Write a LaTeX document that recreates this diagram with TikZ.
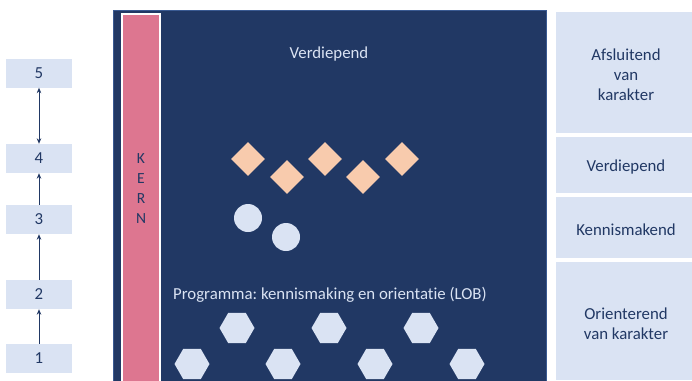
\documentclass[tikz,border=0pt]{standalone}
\usepackage{fontspec}
\setmainfont{Carlito}[RawFeature=-liga]
\frenchspacing
\usetikzlibrary{shapes.geometric,arrows.meta}
\definecolor{navy}{HTML}{213864}
\definecolor{navyedge}{HTML}{3A5A92}
\definecolor{pale}{HTML}{DAE3F3}
\definecolor{kernpink}{HTML}{DD7690}
\definecolor{peach}{HTML}{F8CBAD}
\tikzset{
  every node/.style={font=\fontsize{16.8}{20}\selectfont},
  numbox/.style={fill=pale, draw=none, minimum width=66pt, minimum height=29pt, inner sep=0pt, text=navy},
  sidebox/.style={fill=pale, draw=none, minimum width=136pt, inner sep=0pt},
  sidetext/.style={text=navy, align=center, inner sep=0pt},
  arr/.style={draw=navy, line width=0.8pt, -{Stealth[length=5.5pt,width=4.5pt]}},
  darr/.style={draw=navy, line width=0.8pt, {Stealth[length=5.5pt,width=4.5pt]}-{Stealth[length=5.5pt,width=4.5pt]}},
  diam/.style={diamond, fill=peach, draw=none, minimum width=34pt, minimum height=34pt, inner sep=0pt},
  dot/.style={circle, fill=pale, draw=none, minimum size=28pt, inner sep=0pt},
  hex/.style={regular polygon, regular polygon sides=6, fill=pale, draw=none, minimum size=35pt, inner sep=0pt},
  kernletter/.style={text=navy, inner sep=0pt, font=\fontsize{15.5}{17}\selectfont}
}
\begin{document}
\begin{tikzpicture}[x=1pt,y=-1pt]
\useasboundingbox (0,0) rectangle (692,380);
% main dark panel
\path[fill=navy, draw=navyedge, line width=1pt] (113.5,10.5) rectangle (546,381);
% KERN bar
\path[fill=kernpink, draw=white, line width=2pt] (122,14) rectangle (160,382);
\node[kernletter] (k1) at (141,159) {K};
\node[kernletter] (k2) at (141,179) {E};
\node[kernletter] (k3) at (141,199) {R};
\node[kernletter] (k4) at (141,219) {N};
% texts in panel
\node[text=pale] (verd) at (329,54) {Verdiepend};
\node[text=pale, anchor=west, inner sep=0pt] (prog) at (173,295) {Programma: kennismaking en orientatie (LOB)};
% diamonds
\node[diam] (d1) at (248,159) {};
\node[diam] (d2) at (287,177) {};
\node[diam] (d3) at (325,159) {};
\node[diam] (d4) at (363,177) {};
\node[diam] (d5) at (402,159) {};
% circles
\node[dot] (c1) at (248,218) {};
\node[dot] (c2) at (286,237) {};
% hexagons
\node[hex] (h1) at (237,328) {};
\node[hex] (h2) at (329,328) {};
\node[hex] (h3) at (421,328) {};
\node[hex] (h4) at (192,364) {};
\node[hex] (h5) at (283,364) {};
\node[hex] (h6) at (375,364) {};
\node[hex] (h7) at (467,364) {};
% left number boxes
\node[numbox] (n5) at (39,73) {5};
\node[numbox] (n4) at (39,158.5) {4};
\node[numbox] (n3) at (39,219.5) {3};
\node[numbox] (n2) at (39,294.5) {2};
\node[numbox] (n1) at (39,358.5) {1};
\draw[darr] (n4.north) -- (n5.south);
\draw[arr] (n3.north) -- (n4.south);
\draw[arr] (n2.north) -- (n3.south);
\draw[arr] (n1.north) -- (n2.south);
% right boxes
\node[sidebox, minimum height=121pt] (r1) at (624,72.5) {};
\node[sidebox, minimum height=56pt] (r2) at (624,165) {};
\node[sidebox, minimum height=61pt] (r3) at (624,227.5) {};
\node[sidebox, minimum height=118pt] (r4) at (624,321) {};
\node[sidetext] (t1) at (626,75) {Afsluitend\\van\\karakter};
\node[sidetext] (t2) at (626,167) {Verdiepend};
\node[sidetext] (t3) at (626,229.5) {Kennismakend};
\node[sidetext] (t4) at (626,324) {Orienterend\\van karakter};
\end{tikzpicture}
\end{document}
